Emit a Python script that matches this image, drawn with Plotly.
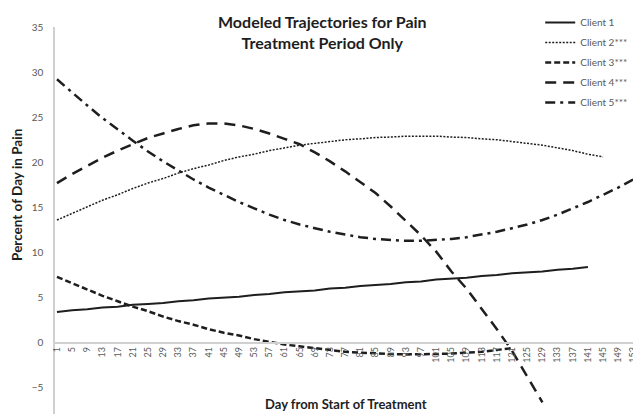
import plotly.graph_objects as go

# Day from start of treatment, sampled at the labelled ticks (1, 5, 9, ... 153)
DAYS = list(range(1, 154, 4))

client_1 = [3.4, 3.6, 3.7, 3.9, 4.0, 4.2, 4.3, 4.4, 4.6, 4.7, 4.9, 5.0, 5.1, 5.3,
            5.4, 5.6, 5.7, 5.8, 6.0, 6.1, 6.3, 6.4, 6.5, 6.7, 6.8, 7.0, 7.1, 7.2,
            7.4, 7.5, 7.7, 7.8, 7.9, 8.1, 8.2, 8.4]
client_2 = [13.6, 14.35, 15.1, 15.8, 16.4, 17.1, 17.7, 18.2, 18.8, 19.3, 19.7, 20.2,
            20.6, 20.9, 21.3, 21.6, 21.9, 22.1, 22.3, 22.5, 22.6, 22.75, 22.8, 22.9,
            22.9, 22.9, 22.8, 22.75, 22.6, 22.5, 22.3, 22.1, 21.9, 21.6, 21.3, 20.9,
            20.6]
client_3 = [7.3, 6.6, 5.9, 5.2, 4.6, 4.0, 3.5, 2.9, 2.4, 2.0, 1.5, 1.1, 0.8, 0.4,
            0.1, -0.2, -0.4, -0.6, -0.8, -1.0, -1.1, -1.2, -1.25, -1.3, -1.3, -1.25,
            -1.2, -1.1, -1.0, -0.8, -0.6]
client_4 = [17.7, 18.7, 19.6, 20.5, 21.3, 22.0, 22.7, 23.2, 23.7, 24.1, 24.3, 24.3,
            24.1, 23.7, 23.2, 22.6, 22.0, 21.1, 20.1, 19.0, 17.8, 16.6, 15.1, 13.5,
            11.9, 10.1, 7.9, 6.0, 3.8, 1.5, -0.9, -3.7, -6.6]
client_5 = [29.2, 27.7, 26.3, 24.9, 23.6, 22.4, 21.2, 20.1, 19.1, 18.1, 17.2, 16.4,
            15.6, 14.9, 14.2, 13.6, 13.1, 12.7, 12.3, 12.0, 11.7, 11.5, 11.4, 11.3,
            11.3, 11.4, 11.5, 11.7, 12.0, 12.3, 12.7, 13.1, 13.6, 14.2, 14.9, 15.6,
            16.4, 17.2, 18.1]

SERIES = [
    ("Client 1", client_1, "solid", 2),
    ("Client 2***", client_2, "2px,1.5px", 1.5),
    ("Client 3***", client_3, "6px,3px", 2.5),
    ("Client 4***", client_4, "11px,7px", 2.5),
    ("Client 5***", client_5, "10px,5px,3px,5px", 2.5),
]

Y_MIN, Y_MAX = -7.9, 35
FONT = "Lato, 'Open Sans', sans-serif"
INK = "#1e1e1e"
GREY = "#595959"

fig = go.Figure()
for i, (name, values, dash, width) in enumerate(SERIES):
    fig.add_trace(
        go.Scatter(
            x=DAYS[: len(values)],
            y=values,
            mode="lines",
            name=name,
            legendgroup=str(i),
            line=dict(color=INK, width=width, dash=dash),
        )
    )

# page body has an 8px margin, so the figure is sized to fit inside it
fig.update_layout(
    width=633,
    height=406,
    margin=dict(l=47, r=0, t=11, b=0),
    paper_bgcolor="white",
    plot_bgcolor="white",
    font=dict(family=FONT, color=GREY),
    showlegend=True,
    legend=dict(
        x=0.828,
        y=1.05,
        xanchor="left",
        yanchor="top",
        bgcolor="rgba(0,0,0,0)",
        font=dict(size=10, color=GREY),
        itemwidth=30,
        traceorder="grouped",
        tracegroupgap=1,
    ),
    xaxis=dict(
        range=[0.48, 155],
        tickmode="array",
        tickvals=DAYS,
        ticktext=[str(d) for d in DAYS],
        tickangle=-90,
        tickfont=dict(size=9, color=GREY),
        ticklabeloverflow="allow",
        showgrid=False,
        zeroline=False,
        showline=True,
        linecolor="#d0d0d0",
        linewidth=1.5,
        ticks="",
        anchor="free",
        position=(0 - Y_MIN) / (Y_MAX - Y_MIN),
    ),
    yaxis=dict(
        range=[Y_MIN, Y_MAX],
        dtick=5,
        tick0=0,
        tickfont=dict(size=10, color=GREY),
        showgrid=False,
        zeroline=False,
        showline=True,
        linecolor="#d0d0d0",
        linewidth=1.5,
        ticks="",
        ticklabelstandoff=8,
    ),
    annotations=[
        dict(
            text="<b>Modeled Trajectories for Pain<br>Treatment Period Only</b>",
            xref="paper", yref="paper", x=0.456, y=1.045,
            xanchor="center", yanchor="top", showarrow=False,
            font=dict(size=16, color=INK, family=FONT),
        ),
        dict(
            text="<b>Percent of Day in Pain</b>",
            xref="paper", yref="paper", x=-0.066, y=0.567,
            xanchor="center", yanchor="middle", showarrow=False, textangle=-90,
            font=dict(size=13.5, color=INK, family=FONT),
        ),
        dict(
            text="<b>Day from Start of Treatment</b>",
            xref="paper", yref="paper", x=0.497, y=0.025,
            xanchor="center", yanchor="middle", showarrow=False,
            font=dict(size=13, color=INK, family=FONT),
        ),
    ],
)

fig.write_html("out.html")
